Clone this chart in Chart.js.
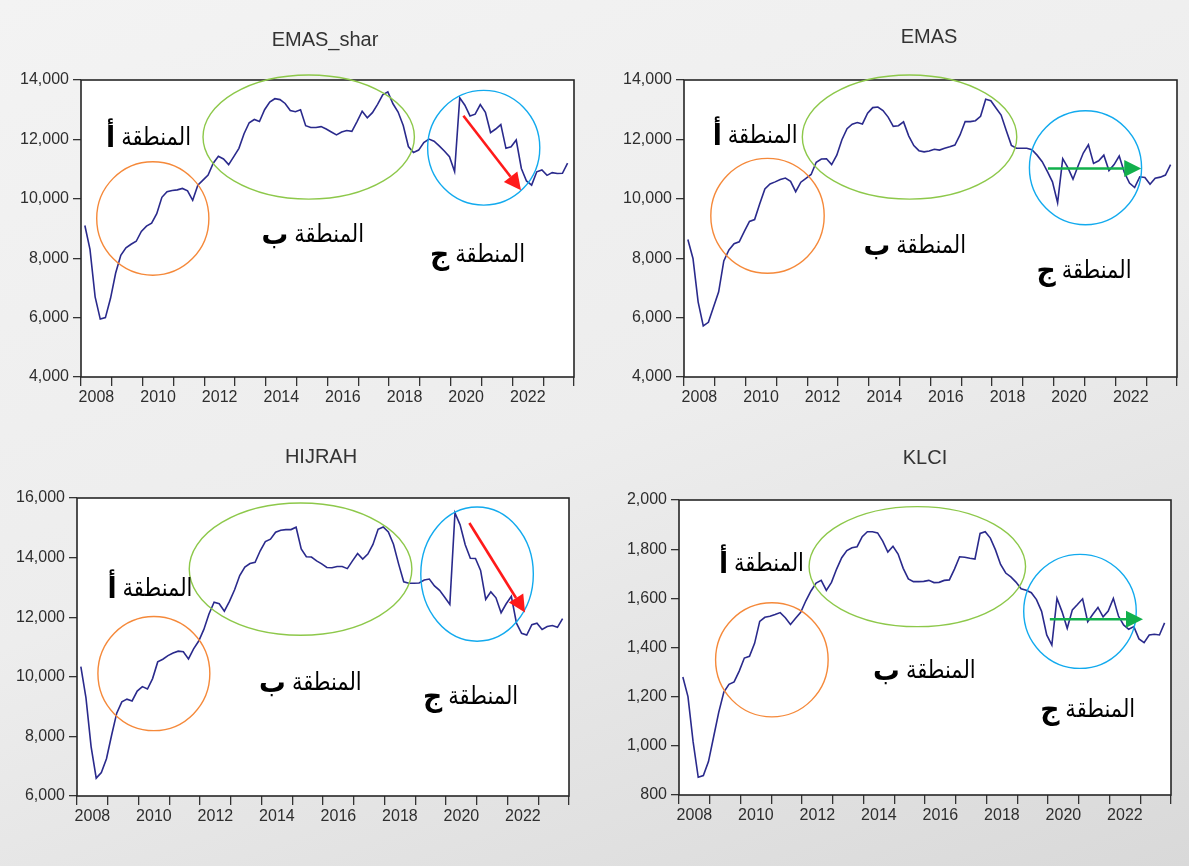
<!DOCTYPE html>
<html>
<head>
<meta charset="utf-8">
<script src="https://cdn.jsdelivr.net/npm/chart.js@4.4.1/dist/chart.umd.min.js"></script>
<style>
  html, body { margin: 0; padding: 0; }
  body {
    width: 1189px; height: 866px; overflow: hidden; position: relative;
    background: linear-gradient(160deg, #f3f3f3 0%, #ededed 50%, #d9d9d9 100%);
  }
  canvas { position: absolute; }
</style>
</head>
<body>
<canvas id="c1" width="594" height="425" style="left:0;top:0"></canvas>
<canvas id="c2" width="595" height="425" style="left:594px;top:0"></canvas>
<canvas id="c3" width="594" height="441" style="left:0;top:425px"></canvas>
<canvas id="c4" width="595" height="441" style="left:594px;top:425px"></canvas>
<script>
// bimonthly observations, Feb 2008 .. Oct 2023
const periods = [
  '2008-02','2008-04','2008-06','2008-08','2008-10','2008-12',
  '2009-02','2009-04','2009-06','2009-08','2009-10','2009-12',
  '2010-02','2010-04','2010-06','2010-08','2010-10','2010-12',
  '2011-02','2011-04','2011-06','2011-08','2011-10','2011-12',
  '2012-02','2012-04','2012-06','2012-08','2012-10','2012-12',
  '2013-02','2013-04','2013-06','2013-08','2013-10','2013-12',
  '2014-02','2014-04','2014-06','2014-08','2014-10','2014-12',
  '2015-02','2015-04','2015-06','2015-08','2015-10','2015-12',
  '2016-02','2016-04','2016-06','2016-08','2016-10','2016-12',
  '2017-02','2017-04','2017-06','2017-08','2017-10','2017-12',
  '2018-02','2018-04','2018-06','2018-08','2018-10','2018-12',
  '2019-02','2019-04','2019-06','2019-08','2019-10','2019-12',
  '2020-02','2020-04','2020-06','2020-08','2020-10','2020-12',
  '2021-02','2021-04','2021-06','2021-08','2021-10','2021-12',
  '2022-02','2022-04','2022-06','2022-08','2022-10','2022-12',
  '2023-02','2023-04','2023-06','2023-08','2023-10'
];

const emasShar = [
  9100, 8300, 6700, 5950, 6000, 6650,
  7500, 8100, 8350, 8470, 8570, 8900,
  9080, 9180, 9500, 10050, 10240, 10280,
  10300, 10350, 10270, 9950, 10460, 10630,
  10800, 11200, 11430, 11340, 11150, 11420,
  11700, 12190, 12560, 12670, 12600, 13000,
  13260, 13370, 13340, 13210, 12970, 12930,
  13000, 12460, 12400, 12400, 12430, 12350,
  12250, 12150, 12250, 12300, 12270, 12600,
  12950, 12730, 12900, 13180, 13500, 13600,
  13200, 12920, 12470, 11760, 11560, 11640,
  11890, 12010, 11940, 11780, 11610, 11420,
  10920, 13400, 13150, 12790, 12850, 13170,
  12910, 12230, 12350, 12500, 11700, 11750,
  11980, 11020, 10600, 10460, 10910, 10970,
  10790, 10880, 10850, 10860, 11200
];

const emas = [
  8630, 7990, 6530, 5720, 5840, 6360,
  6870, 7910, 8280, 8490, 8550, 8900,
  9240, 9300, 9830, 10330, 10500, 10570,
  10650, 10700, 10590, 10240, 10560, 10690,
  10820, 11230, 11340, 11350, 11150, 11470,
  11990, 12360, 12510, 12570, 12520, 12880,
  13070, 13090, 12970, 12750, 12440, 12460,
  12590, 12120, 11790, 11620, 11580, 11610,
  11670, 11640, 11700, 11750, 11810, 12150,
  12600, 12600, 12630, 12780, 13350, 13300,
  13060, 12820, 12300, 11800, 11700, 11700,
  11700, 11650, 11470, 11250, 10920, 10570,
  9870, 11350, 11050, 10660, 11110, 11540,
  11820, 11190, 11280, 11470, 10950, 11150,
  11440, 10890, 10530, 10380, 10740, 10720,
  10490, 10690, 10730, 10800, 11150
];

const hijrah = [
  10340, 9290, 7660, 6600, 6790, 7250,
  8040, 8780, 9160, 9250, 9190, 9520,
  9670, 9590, 9940, 10500, 10590, 10710,
  10800, 10860, 10840, 10600, 10940, 11200,
  11590, 12110, 12500, 12450, 12200, 12530,
  12920, 13400, 13680, 13800, 13840, 14230,
  14540, 14620, 14850, 14920, 14940, 14940,
  15020, 14290, 14030, 14020, 13890, 13790,
  13670, 13660, 13700, 13700, 13630, 13890,
  14140, 13950, 14120, 14440, 14950, 15030,
  14860, 14450, 13790, 13190, 13140, 13140,
  13150, 13250, 13280, 13050, 12900, 12670,
  12430, 15500, 15100, 14430, 13980, 13970,
  13570, 12600, 12850, 12650, 12150, 12450,
  12700, 11800, 11460, 11400, 11750, 11800,
  11590, 11690, 11720, 11660, 11950
];

const klci = [
  1280, 1200, 1017, 872, 879, 936,
  1036, 1136, 1219, 1250, 1260, 1304,
  1357, 1364, 1417, 1506, 1523, 1527,
  1534, 1542, 1521, 1494, 1519, 1543,
  1590, 1630, 1662, 1673, 1632, 1665,
  1719, 1765, 1794, 1806, 1810, 1851,
  1871, 1871, 1866, 1833, 1788, 1812,
  1780, 1722, 1679, 1668, 1668, 1669,
  1673, 1664, 1665, 1673, 1675, 1719,
  1769, 1767, 1763, 1760, 1864, 1871,
  1845, 1797, 1738, 1703, 1687, 1666,
  1639, 1633, 1623, 1595, 1547, 1451,
  1410, 1600, 1545, 1478, 1553, 1575,
  1598, 1505, 1535, 1563, 1525, 1548,
  1600, 1528, 1492, 1474, 1485, 1435,
  1420, 1451, 1454, 1451, 1500
];

// axis ticks
const yearTicks = [2008, 2009, 2010, 2011, 2012, 2013, 2014, 2015, 2016,
                   2017, 2018, 2019, 2020, 2021, 2022, 2023, 2024];
const yearLabels = ['2008', '2010', '2012', '2014', '2016', '2018', '2020', '2022'];
const emasTicks = [4000, 6000, 8000, 10000, 12000, 14000];
const hijrahTicks = [6000, 8000, 10000, 12000, 14000, 16000];
const klciTicks = [800, 1000, 1200, 1400, 1600, 1800, 2000];

const zoneWord = 'المنطقة';
const zoneLetters = ['أ', 'ب', 'ج'];

const LINE = '#2a2a8c';
const TEXT = '#2e2e2e';
const LATIN = '"Liberation Sans", Arial, sans-serif';
const ARABIC = '"DejaVu Sans", sans-serif';
const ORANGE = '#f5893a', LIME = '#8dc84a', SKY = '#12aaee';

function toYear(p) {
    const [y, m] = p.split('-').map(Number);
    return y + (m - 0.5) / 12;
}

// text squeezed horizontally, anchored at its right edge
function squeezedText(ctx, str, font, sx, right, y) {
    ctx.font = font;
    const w = ctx.measureText(str).width * sx;
    ctx.save();
    ctx.translate(right - w, y);
    ctx.scale(sx, 1);
    ctx.textAlign = 'left';
    ctx.fillText(str, 0, 0);
    ctx.restore();
    return w;
}

// draws the white plot box, frame, title, circles, arrows and zone labels
const overlay = {
    id: 'overlay',
    beforeDraw(chart) {
        const a = chart.chartArea, ctx = chart.ctx;
        ctx.save();
        ctx.fillStyle = '#ffffff';
        ctx.fillRect(a.left, a.top, a.right - a.left, a.bottom - a.top);
        ctx.restore();
    },
    afterDraw(chart) {
        const cfg = chart.options.plugins.overlay;
        const a = chart.chartArea, ctx = chart.ctx;
        const xs = chart.scales.x, ys = chart.scales.y;
        const px = v => xs.getPixelForValue(v);
        const py = v => ys.getPixelForValue(v);
        ctx.save();

        // frame
        ctx.strokeStyle = '#262626';
        ctx.lineWidth = 1.6;
        ctx.strokeRect(a.left, a.top, a.right - a.left, a.bottom - a.top);

        // title
        ctx.fillStyle = '#333';
        ctx.font = '20px ' + LATIN;
        ctx.textAlign = 'center';
        ctx.textBaseline = 'middle';
        ctx.fillText(cfg.title, cfg.titleAt[0], cfg.titleAt[1]);

        // ellipses
        cfg.rings.forEach(r => {
            const cx = px(r.x), cy = py(r.y);
            const rx = Math.abs(px(r.x + r.rx) - cx);
            const ry = Math.abs(py(r.y + r.ry) - cy);
            ctx.beginPath();
            ctx.ellipse(cx, cy, rx, ry, 0, 0, Math.PI * 2);
            ctx.strokeStyle = r.color;
            ctx.lineWidth = 1.4;
            ctx.stroke();
        });

        // arrow
        const ar = cfg.arrow;
        const x0 = px(ar.from[0]), y0 = py(ar.from[1]);
        const x1 = px(ar.to[0]), y1 = py(ar.to[1]);
        const ang = Math.atan2(y1 - y0, x1 - x0);
        const head = 17, half = 8.5;
        const cs = Math.cos(ang), sn = Math.sin(ang);
        ctx.strokeStyle = ar.color;
        ctx.fillStyle = ar.color;
        ctx.lineWidth = 2.6;
        ctx.beginPath();
        ctx.moveTo(x0, y0);
        ctx.lineTo(x1 - cs * head, y1 - sn * head);
        ctx.stroke();
        ctx.beginPath();
        ctx.moveTo(x1, y1);
        ctx.lineTo(x1 - cs * head - sn * half, y1 - sn * head + cs * half);
        ctx.lineTo(x1 - cs * head + sn * half, y1 - sn * head - cs * half);
        ctx.closePath();
        ctx.fill();

        // zone labels: regular word, bold letter on its left
        ctx.fillStyle = '#000';
        ctx.textBaseline = 'middle';
        cfg.labels.forEach((lb, i) => {
            const cx = px(lb[0]), cy = py(lb[1]);
            const wordFont = '25px ' + ARABIC;
            const letterFont = 'bold 29px ' + ARABIC;
            ctx.font = wordFont;
            const w1 = ctx.measureText(zoneWord).width * 0.84;
            ctx.font = letterFont;
            const w2 = ctx.measureText(zoneLetters[i]).width * 0.92;
            const gap = 6;
            const right = cx + (w1 + gap + w2) / 2;
            squeezedText(ctx, zoneWord, wordFont, 0.84, right, cy);
            squeezedText(ctx, zoneLetters[i], letterFont, 0.92, right - w1 - gap, cy + 1);
        });
        ctx.restore();
    }
};

function makePanel(id, values, cfg) {
    new Chart(document.getElementById(id), {
        type: 'line',
        data: {
            datasets: [{
                data: periods.map((p, i) => ({ x: toYear(p), y: values[i] })),
                borderColor: LINE,
                borderWidth: 1.6,
                pointRadius: 0,
                tension: 0
            }]
        },
        options: {
            responsive: false,
            animation: false,
            events: [],
            layout: { padding: { top: cfg.padTop, right: cfg.padRight, left: 0, bottom: 0 } },
            plugins: {
                legend: { display: false },
                tooltip: { enabled: false },
                overlay: cfg
            },
            scales: {
                x: {
                    type: 'linear',
                    min: 2008,
                    max: 2024,
                    afterBuildTicks: s => { s.ticks = yearTicks.map(v => ({ value: v })); },
                    afterFit: s => { s.height = cfg.xHeight; },
                    ticks: {
                        autoSkip: false,
                        maxRotation: 0,
                        labelOffset: 15.4,
                        padding: 2,
                        color: TEXT,
                        font: { family: LATIN, size: 16 },
                        callback: v => yearLabels.includes(String(v)) ? String(v) : ''
                    },
                    grid: { drawOnChartArea: false, tickLength: 9, color: '#333', lineWidth: 1.3 },
                    border: { display: false }
                },
                y: {
                    min: cfg.yTicks[0],
                    max: cfg.yTicks[cfg.yTicks.length - 1],
                    afterBuildTicks: s => { s.ticks = cfg.yTicks.map(v => ({ value: v })); },
                    afterFit: s => { s.width = cfg.yWidth; },
                    ticks: {
                        padding: 4,
                        color: TEXT,
                        font: { family: LATIN, size: 16 },
                        callback: v => v.toLocaleString('en-US')
                    },
                    grid: { drawOnChartArea: false, tickLength: 8, color: '#333', lineWidth: 1.3 },
                    border: { display: false }
                }
            }
        },
        plugins: [overlay]
    });
}

makePanel('c1', emasShar, {
    title: 'EMAS_shar', titleAt: [325, 40],
    yTicks: emasTicks, yWidth: 81, padRight: 20, padTop: 80, xHeight: 48,
    rings: [
        { x: 2010.33, y: 9337, rx: 1.82, ry: 1910, color: ORANGE },
        { x: 2015.39, y: 12079, rx: 3.43, ry: 2090, color: LIME },
        { x: 2021.07, y: 11719, rx: 1.82, ry: 1933, color: SKY }
    ],
    arrow: { from: [2020.41, 12798], to: [2022.28, 10292], color: '#ff1a1a' },
    labels: [[2010.19, 12034], [2015.52, 8775], [2020.87, 8101]]
});

makePanel('c2', emas, {
    title: 'EMAS', titleAt: [335, 37],
    yTicks: emasTicks, yWidth: 90, padRight: 12, padTop: 80, xHeight: 48,
    rings: [
        { x: 2010.71, y: 9427, rx: 1.84, ry: 1933, color: ORANGE },
        { x: 2015.32, y: 12079, rx: 3.48, ry: 2090, color: LIME },
        { x: 2021.03, y: 11045, rx: 1.82, ry: 1921, color: SKY }
    ],
    arrow: { from: [2019.81, 11022], to: [2022.84, 11022], color: '#12b04c' },
    labels: [[2010.31, 12090], [2015.49, 8382], [2020.98, 7539]]
});

makePanel('c3', hijrah, {
    title: 'HIJRAH', titleAt: [321, 32],
    yTicks: hijrahTicks, yWidth: 77, padRight: 25, padTop: 73, xHeight: 70,
    rings: [
        { x: 2010.50, y: 10109, rx: 1.82, ry: 1915, color: ORANGE },
        { x: 2015.27, y: 13614, rx: 3.62, ry: 2218, color: LIME },
        { x: 2021.01, y: 13446, rx: 1.83, ry: 2251, color: SKY }
    ],
    arrow: { from: [2020.76, 15160], to: [2022.57, 12158], color: '#ff1a1a' },
    labels: [[2010.37, 12920], [2015.59, 9784], [2020.80, 9314]]
});

makePanel('c4', klci, {
    title: 'KLCI', titleAt: [331, 33],
    yTicks: klciTicks, yWidth: 85, padRight: 18, padTop: 75, xHeight: 71,
    rings: [
        { x: 2011.02, y: 1350, rx: 1.83, ry: 232, color: ORANGE },
        { x: 2015.75, y: 1729, rx: 3.52, ry: 244, color: LIME },
        { x: 2021.04, y: 1547, rx: 1.83, ry: 232, color: SKY }
    ],
    arrow: { from: [2020.06, 1515], to: [2023.09, 1515], color: '#12b04c' },
    labels: [[2010.68, 1736], [2015.98, 1302], [2021.29, 1142]]
});
</script>
</body>
</html>
